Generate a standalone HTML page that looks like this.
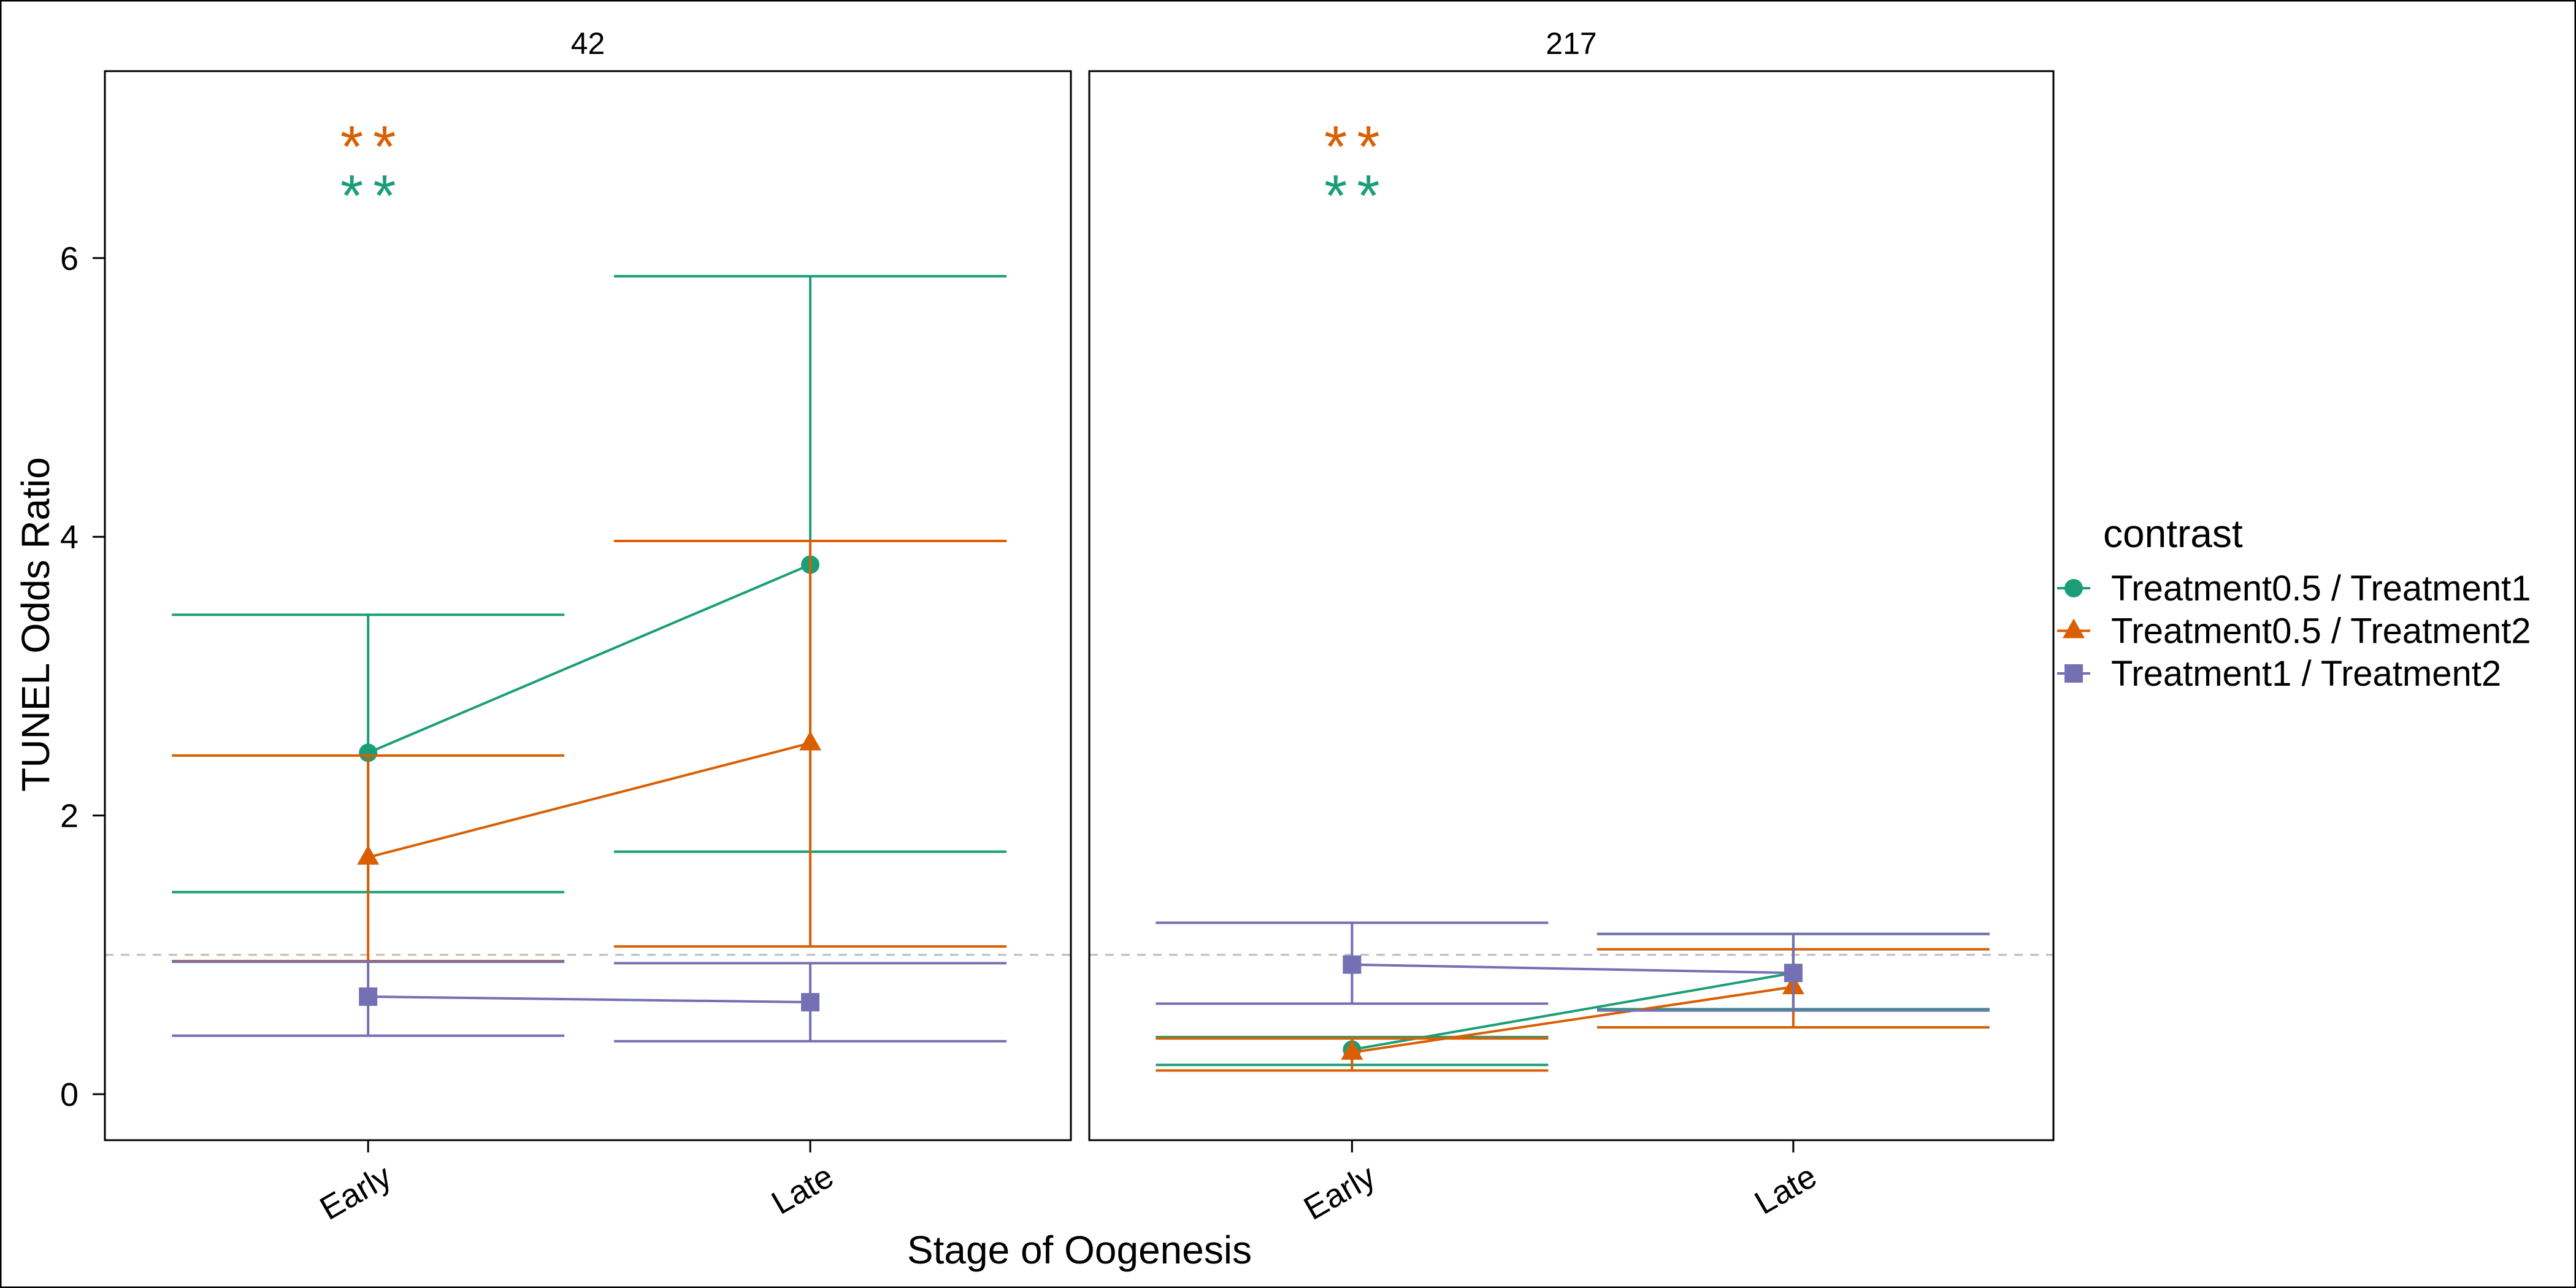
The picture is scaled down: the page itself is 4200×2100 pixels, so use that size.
<!DOCTYPE html>
<html><head><meta charset="utf-8"><style>
html,body{margin:0;padding:0;background:#fff}
svg{display:block;font-family:"Liberation Sans",Arial,sans-serif}
</style></head><body>
<svg id="chart" width="4200" height="2100" viewBox="0 0 4200 2100">
<rect x="1" y="1" width="4198" height="2098" fill="#fff" stroke="#000" stroke-width="3"/>
<g id="g"></g>
</svg>
<script>
const panels = ["42", "217"];
const stages = ["Early", "Late"];
const series = ["Treatment0.5 / Treatment1", "Treatment0.5 / Treatment2", "Treatment1 / Treatment2"];
const colors = ["#1b9e77", "#d95f02", "#7570b3"];
const yTicks = [0, 2, 4, 6];
// values [panel][series][stage]
const est42 = [[2.45, 3.80], [1.70, 2.52], [0.70, 0.66]];
const lo42 = [[1.45, 1.74], [0.955, 1.06], [0.42, 0.38]];
const hi42 = [[3.44, 5.87], [2.43, 3.97], [0.95, 0.94]];
const est217 = [[0.32, 0.87], [0.30, 0.77], [0.93, 0.87]];
const lo217 = [[0.21, 0.61], [0.17, 0.48], [0.65, 0.60]];
const hi217 = [[0.41, 1.15], [0.40, 1.04], [1.23, 1.15]];
const est = [est42, est217], lo = [lo42, lo217], hi = [hi42, hi217];

const NS = "http://www.w3.org/2000/svg";
const g = document.getElementById("g");
function mk(tag, attrs, parent) {
  const e = document.createElementNS(NS, tag);
  for (const k in attrs) e.setAttribute(k, attrs[k]);
  (parent || g).appendChild(e);
  return e;
}
const panelX = [[171, 1746], [1776, 3348]];
const panelTop = 116, panelBottom = 1859;
const y = v => 1784 - v * 227.2;
const xPos = (p, i) => {
  const [a, b] = panelX[p];
  const w = b - a;
  return a + w * (0.2725 + i * 0.4577);
};
const capHalf = 320;

yTicks.forEach(t => {
  const l = mk("line", {x1: 151, x2: 171, y1: y(t), y2: y(t), stroke: "#000", "stroke-width": 3});
  
  
  const tx = mk("text", {x: 128, y: y(t) + 19, "text-anchor": "end", "font-size": 54});
  tx.textContent = t;
  
  
});
const yt = mk("text", {x: 0, y: 0, transform: "translate(80,1018) rotate(-90)", "text-anchor": "middle", "font-size": 64});
yt.textContent = "TUNEL Odds Ratio";



panels.forEach((pn, p) => {
  const [a, b] = panelX[p];
  const pg = mk("g", {});
  
  
  const st = mk("text", {x: (a + b) / 2, y: 88, "text-anchor": "middle", "font-size": 50}, pg);
  st.textContent = pn;
  
  
  const ref = mk("line", {x1: a, x2: b, y1: y(1), y2: y(1), stroke: "#bdbdbd", "stroke-width": 3, "stroke-dasharray": "14 12"}, pg);
  
  
  const sx = xPos(p, 0);
  const s1 = mk("text", {x: sx + 8, y: 272, "text-anchor": "middle", "font-size": 96, fill: colors[1], "letter-spacing": 16}, pg);
  s1.textContent = "**";
  
  
  const s2 = mk("text", {x: sx + 8, y: 352, "text-anchor": "middle", "font-size": 96, fill: colors[0], "letter-spacing": 16}, pg);
  s2.textContent = "**";
  
  
  series.forEach((s, si) => {
    const c = colors[si];
    stages.forEach((stg, i) => {
      const x = xPos(p, i);
      const eb = mk("g", {stroke: c, "stroke-width": 4}, pg);
      
      
      mk("line", {x1: x, x2: x, y1: y(lo[p][si][i]), y2: y(hi[p][si][i])}, eb);
      mk("line", {x1: x - capHalf, x2: x + capHalf, y1: y(lo[p][si][i]), y2: y(lo[p][si][i])}, eb);
      mk("line", {x1: x - capHalf, x2: x + capHalf, y1: y(hi[p][si][i]), y2: y(hi[p][si][i])}, eb);
    });
    const ln = mk("line", {x1: xPos(p, 0), x2: xPos(p, 1), y1: y(est[p][si][0]), y2: y(est[p][si][1]), stroke: c, "stroke-width": 4}, pg);
    
    
    stages.forEach((stg, i) => {
      const x = xPos(p, i), yy = y(est[p][si][i]);
      let m;
      if (si === 0) m = mk("circle", {cx: x, cy: yy, r: 15, fill: c}, pg);
      else if (si === 1) m = mk("polygon", {points: `${x},${yy-20} ${x-18},${yy+12} ${x+18},${yy+12}`, fill: c}, pg);
      else m = mk("rect", {x: x - 15, y: yy - 15, width: 30, height: 30, fill: c}, pg);
      
      
    });
  });
  const fr = mk("rect", {x: a, y: panelTop, width: b - a, height: panelBottom - panelTop, fill: "none", stroke: "#000", "stroke-width": 3}, pg);
  
  
  stages.forEach((stg, i) => {
    const x = xPos(p, i);
    const tk = mk("line", {x1: x, x2: x, y1: panelBottom, y2: panelBottom + 20, stroke: "#000", "stroke-width": 3}, pg);
    
    
    const tl = mk("text", {x: 0, y: 0, transform: `translate(${x + 42},${panelBottom + 70}) rotate(-30)`, "text-anchor": "end", "font-size": 54}, pg);
    tl.textContent = stg;
    
    
  });
});
const xt = mk("text", {x: 1760, y: 2060, "text-anchor": "middle", "font-size": 64});
xt.textContent = "Stage of Oogenesis";



const lg = mk("g", {});


const lt = mk("text", {x: 3429, y: 892, "font-size": 64}, lg);
lt.textContent = "contrast";


series.forEach((s, si) => {
  const yy = 959 + si * 69.5, c = colors[si], x = 3381;
  const le = mk("g", {}, lg);
  
  
  mk("line", {x1: 3354, x2: 3408, y1: yy, y2: yy, stroke: c, "stroke-width": 4}, le);
  if (si === 0) mk("circle", {cx: x, cy: yy, r: 15, fill: c}, le);
  else if (si === 1) mk("polygon", {points: `${x},${yy-20} ${x-18},${yy+12} ${x+18},${yy+12}`, fill: c}, le);
  else mk("rect", {x: x - 15, y: yy - 15, width: 30, height: 30, fill: c}, le);
  const t = mk("text", {x: 3442, y: yy + 20, "font-size": 58}, le);
  t.textContent = s;
});
</script>
</body></html>
